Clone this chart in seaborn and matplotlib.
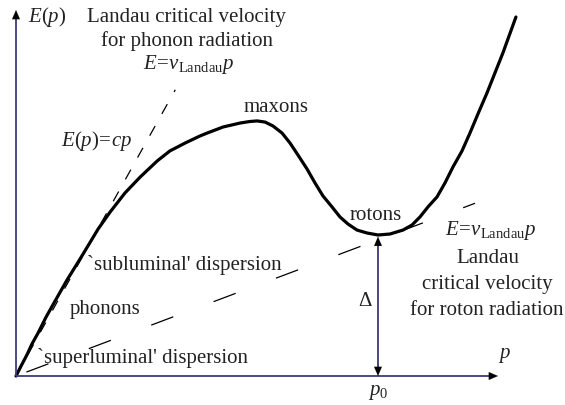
import matplotlib
matplotlib.use("Agg")
import matplotlib.pyplot as plt
import seaborn as sns
import pandas as pd

# Excitation spectrum of superfluid helium, in units of p0 (momentum) and Delta (energy)
p_curve = [0.000, 0.014, 0.030, 0.044, 0.061, 0.083, 0.108, 0.141, 0.177, 0.227,
           0.260, 0.301, 0.343, 0.390, 0.425, 0.467, 0.508, 0.528, 0.572, 0.619,
           0.646, 0.666, 0.688, 0.710, 0.735, 0.757, 0.779, 0.804, 0.826, 0.848,
           0.873, 0.895, 0.917, 0.942, 0.970, 1.000, 1.033, 1.069, 1.094, 1.116,
           1.138, 1.163, 1.185, 1.207, 1.232, 1.254, 1.276, 1.301, 1.323, 1.345,
           1.381]
E_curve = [0.000, 0.071, 0.149, 0.227, 0.305, 0.418, 0.532, 0.681, 0.830, 1.043,
           1.163, 1.298, 1.411, 1.525, 1.596, 1.652, 1.702, 1.723, 1.766, 1.794,
           1.805, 1.809, 1.801, 1.773, 1.723, 1.652, 1.567, 1.468, 1.369, 1.277,
           1.199, 1.128, 1.078, 1.035, 1.014, 1.000, 1.007, 1.035, 1.071, 1.128,
           1.199, 1.270, 1.369, 1.482, 1.596, 1.723, 1.858, 2.007, 2.149, 2.291,
           2.546]

# Landau critical lines E = v p
phonon_line_p = [0.0, 0.440]
phonon_line_E = [0.0, 2.030]
roton_line_p = [0.0, 1.268]
roton_line_E = [0.0, 1.225]

p0 = 1.0
gap = 1.0

sns.set_theme(style="white")
plt.rcParams["font.family"] = ["Liberation Serif", "DejaVu Serif"]
plt.rcParams["mathtext.fontset"] = "custom"
plt.rcParams["mathtext.rm"] = "Liberation Serif"
plt.rcParams["mathtext.it"] = "Liberation Serif:italic"
plt.rcParams["lines.scale_dashes"] = False

AXIS = "#3c3c78"
TEXT = "#222222"
FS = 15

fig = plt.figure(figsize=(5.65, 4.05), dpi=100)
ax = fig.add_axes([0, 0, 1, 1])
ax.set_xlim(-16 / 362, 549 / 362)
ax.set_ylim(-29 / 141, 376 / 141)
ax.axis("off")

def P(px):
    return (px - 16) / 362

def Y(py):
    return (376 - py) / 141

# dashed Landau lines
sns.lineplot(x=phonon_line_p, y=phonon_line_E, ax=ax, color="black", lw=0.9)
ax.lines[-1].set_linestyle((0, (8, 10)))
sns.lineplot(x=roton_line_p, y=roton_line_E, ax=ax, color="black", lw=0.9)
ax.lines[-1].set_linestyle((40, (17, 31)))

# dispersion curve
df = pd.DataFrame({"p": p_curve, "E": E_curve})
sns.lineplot(data=df, x="p", y="E", ax=ax, color="black", lw=2.3, sort=False,
             estimator=None)
ax.lines[-1].set_solid_joinstyle("round")
ax.lines[-1].set_solid_capstyle("round")

# axes with arrowheads
def head(tip, tail):
    ax.annotate("", xy=tip, xytext=tail,
                arrowprops=dict(arrowstyle="-|>,head_length=0.65,head_width=0.28",
                                color="black", lw=0.1, shrinkA=0, shrinkB=0,
                                mutation_scale=10))

x_end = P(498)
y_end = Y(10)
ax.plot([0, x_end - 0.015], [0, 0], color=AXIS, lw=1.3, solid_capstyle="butt")
ax.plot([0, 0], [0, y_end - 0.04], color=AXIS, lw=1.3, solid_capstyle="butt")
head((x_end, 0), (x_end - 0.03, 0))
head((0, y_end), (0, y_end - 0.07))

# gap arrow at p0
ax.plot([p0, p0], [0.05, gap - 0.06], color=AXIS, lw=1.3, solid_capstyle="butt")
head((p0, gap - 0.012), (p0, gap - 0.1))
head((p0, 0.0), (p0, 0.09))

def txt(px, py, s, ha="left"):
    ax.text(P(px), Y(py), s, ha=ha, va="baseline", fontsize=FS, color=TEXT)

txt(28, 22, r"$E(p)$")
txt(186, 22, "Landau critical velocity", ha="center")
txt(187, 46, "for phonon radiation", ha="center")
txt(189, 69, r"$E\!=\!v_{\mathrm{Landau}}p$", ha="center")
txt(276, 112, "maxons", ha="center")
txt(132, 146, r"$E(p)\!=\!cp$", ha="right")
txt(376, 220, "rotons", ha="center")
txt(445, 235, r"$E\!=\!v_{\mathrm{Landau}}p$")
txt(488, 263, "Landau", ha="center")
txt(487, 289, "critical velocity", ha="center")
txt(487, 315, "for roton radiation", ha="center")
txt(365, 306, "Δ", ha="center")
txt(505, 358, r"$p$", ha="center")
ax.text(p0, Y(395), r"$p_0$", ha="center", va="baseline", fontsize=FS, color=TEXT)
txt(87, 270, "`subluminal' dispersion")
txt(70, 314, "phonons")
txt(37, 363, "`superluminal' dispersion")

fig.savefig("out.png", dpi=100, facecolor="white")
